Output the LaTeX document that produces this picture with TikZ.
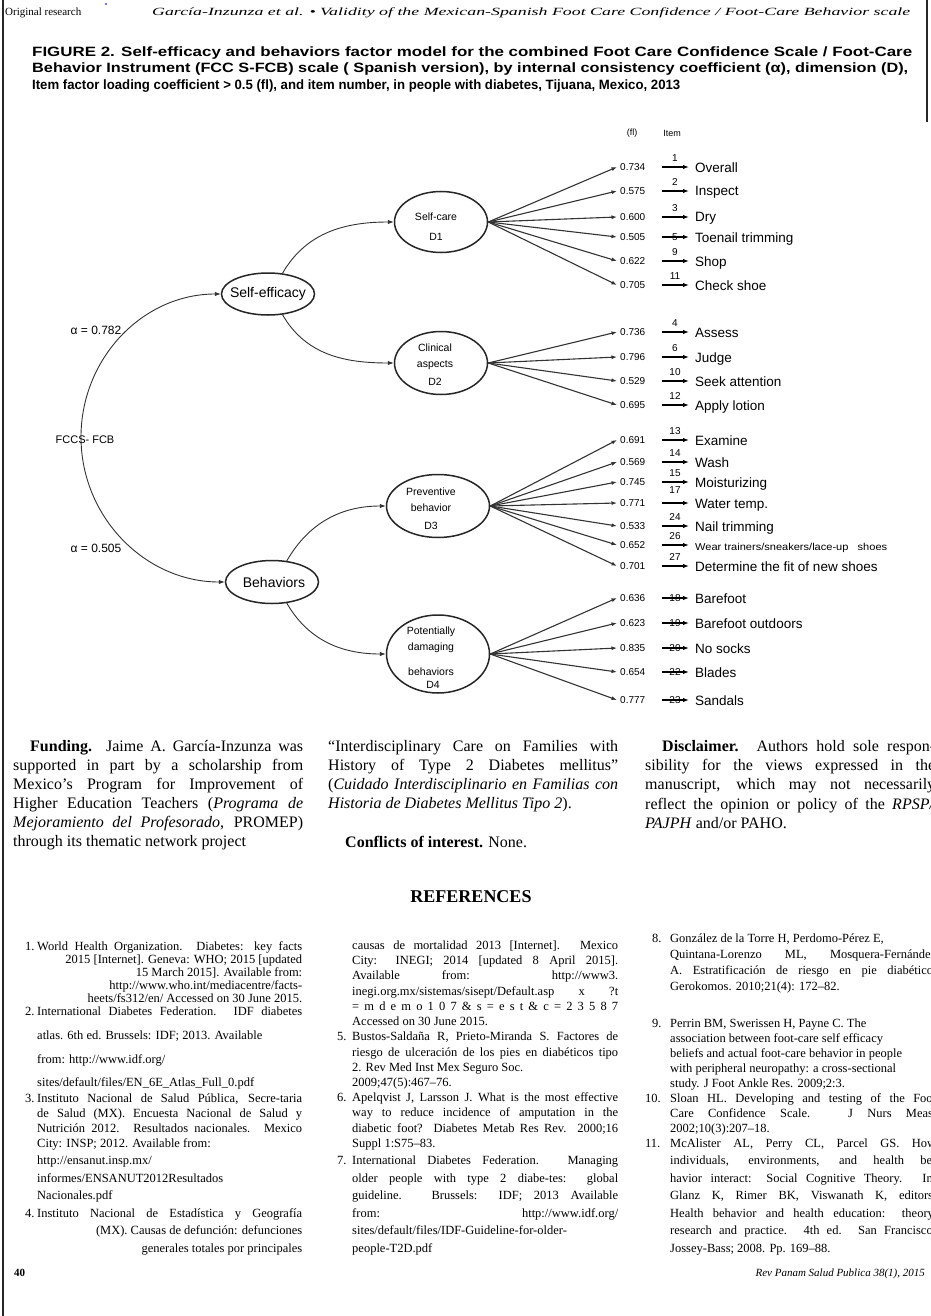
\documentclass[tikz,border=0pt]{standalone}
\usepackage{fontspec}
\usepackage{graphicx}
\setmainfont{Liberation Serif}
\newfontfamily\arial{Liberation Sans}
\usetikzlibrary{shapes.geometric,arrows.meta}

\newcounter{ln}
\newsavebox\lnbox
% stretch a box horizontally to a given width, keeping its height
\newcommand\fitw[2]{\resizebox{#1pt}{\height}{#2}}
% justified line: x, baseline y, width, text
\newcommand\jline[4]{\stepcounter{ln}%
  \node[tl] (ln\arabic{ln}) at (#1,#2) {\sbox\lnbox{#4}\ifdim\wd\lnbox>#3pt\resizebox{#3pt}{\height}{\usebox\lnbox}\else\makebox[#3pt][s]{#4}\fi};}
% left aligned line: x, baseline y, text
\newcommand\lline[3]{\stepcounter{ln}%
  \node[tl] (ln\arabic{ln}) at (#1,#2) {#3};}
% right aligned line: x, baseline y, width, text
\newcommand\rline[4]{\stepcounter{ln}%
  \node[tl] (ln\arabic{ln}) at (#1,#2) {\makebox[#3pt][r]{#4}};}
% one item row of the factor model: source, name, y, loading, item number, number lift, label
\newcommand\itemrow[7]{%
  \coordinate (f#2) at (617,#3);
  \draw[fan] (#1.east) -- (f#2);
  \node[val] (v#2) at (620,#3+3.5) {#4};
  \coordinate (s#2) at (662,#3);
  \coordinate (e#2) at (689,#3);
  \draw[iarr] (s#2) -- (e#2);
  \node[num] (n#2) at (675,#3-#6) {#5};
  \node[itm] (i#2) at (695,#3+5) {#7};
}

\begin{document}
\begin{tikzpicture}[x=1pt,y=-1pt,
  tl/.style={anchor=base west, inner sep=0},
  ell/.style={ellipse, draw=black!85, line width=1.5pt, inner sep=0},
  conn/.style={draw=black!80, line width=0.9pt, -{Latex[length=6pt,width=4.5pt]}},
  fan/.style={draw=black!80, line width=1.1pt, -{Latex[length=5.5pt,width=4pt]}},
  iarr/.style={draw=black, line width=1.2pt, -{Latex[length=6pt,width=4.5pt]}},
  val/.style={anchor=base west, inner sep=0, font=\arial\fontsize{10pt}{12pt}\selectfont},
  num/.style={inner sep=0, font=\arial\fontsize{10pt}{12pt}\selectfont},
  itm/.style={anchor=base west, inner sep=0, font=\arial\fontsize{13.5pt}{16pt}\selectfont},
  dlab/.style={inner sep=0, font=\arial\fontsize{10.5pt}{12pt}\selectfont},
  blab/.style={inner sep=0, font=\arial\fontsize{14pt}{16pt}\selectfont},
  atxt/.style={inner sep=0, font=\arial\fontsize{12pt}{14pt}\selectfont}]

\fill[white] (0,0) rectangle (930,1316);
\useasboundingbox (0,0) rectangle (930,1316);

% page frame
\draw[line width=1.8pt, black!85] (3,0) -- (3,1316);
\draw[line width=1.8pt, black!85] (927,0) -- (927,122);

% running head
\node[tl, font=\fontsize{11pt}{13pt}\selectfont] (hdl) at (5,16) {Original research};
\fill[blue!70] (106,4) circle (1.2);
\node[tl, font=\fontsize{11pt}{13pt}\selectfont\itshape] (hdr) at (152,16)
  {\fitw{758}{García-Inzunza et al. • Validity of the Mexican-Spanish Foot Care Confidence / Foot-Care Behavior scale}};

% figure title
\begin{scope}[every node/.style={tl, font=\arial\bfseries\fontsize{13.5pt}{16pt}\selectfont}]
\node (ti1) at (32,57) {\fitw{880}{FIGURE 2. Self-efficacy and behaviors factor model for the combined Foot Care Confidence Scale / Foot-Care}};
\node (ti2) at (32,73) {\fitw{876}{Behavior Instrument (FCC S-FCB) scale ( Spanish version), by internal consistency coefficient (α), dimension (D),}};
\node (ti3) at (32,90) {\fitw{648}{Item factor loading coefficient > 0.5 (fl), and item number, in people with diabetes, Tijuana, Mexico, 2013}};
\end{scope}

% column heads
\node[num, font=\arial\fontsize{9pt}{11pt}\selectfont] (hfl) at (632,133) {(fl)};
\node[num, font=\arial\fontsize{9pt}{11pt}\selectfont] (hit) at (672,133) {Item};

% latent factors
\node[ell, minimum width=93pt, minimum height=42pt] (se) at (268,294) {};
\node[blab] (set) at (268,294) {Self-efficacy};
\node[ell, minimum width=93pt, minimum height=43pt] (be) at (272,582) {};
\node[blab] (bet) at (274,582) {Behaviors};

\node[ell, minimum width=93pt, minimum height=61pt] (d1) at (441,222) {};
\node[dlab] (d1a) at (436,217) {Self-care};
\node[dlab] (d1b) at (436,237) {D1};
\node[ell, minimum width=93pt, minimum height=63pt] (d2) at (441,363) {};
\node[dlab] (d2a) at (435,348) {Clinical};
\node[dlab] (d2b) at (435,365) {aspects};
\node[dlab] (d2c) at (435,382) {D2};
\node[ell, minimum width=103pt, minimum height=63pt] (d3) at (438,506) {};
\node[dlab] (d3a) at (431,492) {Preventive};
\node[dlab] (d3b) at (431,508) {behavior};
\node[dlab] (d3c) at (431,526) {D3};
\node[ell, minimum width=103pt, minimum height=78pt] (d4) at (438,654) {};
\node[dlab] (d4a) at (431,632) {Potentially};
\node[dlab] (d4b) at (431,648) {damaging};
\node[dlab] (d4c) at (431,672) {behaviors};
\node[dlab] (d4d) at (433,685) {D4};

% higher order structure
\coordinate (root) at (81,437);
\draw[conn] (root) to[out=90,in=180] (se.west);
\draw[conn] (root) to[out=-90,in=180] (be.west);
\node[atxt] (a1) at (96,330) {α = 0.782};
\node[atxt] (a2) at (96,548) {α = 0.505};
\node[atxt, font=\arial\fontsize{11pt}{13pt}\selectfont] (rt) at (85,440) {FCCS- FCB};

\draw[conn] (se.55) to[out=60,in=180] (d1.west);
\draw[conn] (se.-55) to[out=-60,in=180] (d2.west);
\draw[conn] (be.55) to[out=60,in=180] (d3.west);
\draw[conn] (be.-55) to[out=-60,in=180] (d4.west);

% items with loadings
\itemrow{d1}{r1}{167}{0.734}{1}{9}{Overall}
\itemrow{d1}{r2}{191}{0.575}{2}{9}{Inspect}
\itemrow{d1}{r3}{217}{0.600}{3}{9}{Dry}
\itemrow{d1}{r4}{237}{0.505}{5}{0}{Toenail trimming}
\itemrow{d1}{r5}{261}{0.622}{9}{9}{Shop}
\itemrow{d1}{r6}{285}{0.705}{11}{9}{Check shoe}

\itemrow{d2}{r7}{332}{0.736}{4}{9}{Assess}
\itemrow{d2}{r8}{357}{0.796}{6}{9}{Judge}
\itemrow{d2}{r9}{381}{0.529}{10}{9}{Seek attention}
\itemrow{d2}{r10}{405}{0.695}{12}{9}{Apply lotion}

\itemrow{d3}{r11}{440}{0.691}{13}{9}{Examine}
\itemrow{d3}{r12}{462}{0.569}{14}{9}{Wash}
\itemrow{d3}{r13}{482}{0.745}{15}{9}{Moisturizing}
\itemrow{d3}{r14}{503}{0.771}{17}{13}{Water temp.}
\itemrow{d3}{r15}{526}{0.533}{24}{9}{Nail trimming}
\itemrow{d3}{r16}{545}{0.652}{26}{9}{\fitw{192}{\fontsize{10pt}{12pt}\selectfont Wear trainers/sneakers/lace-up\ \ \ shoes}}
\itemrow{d3}{r17}{566}{0.701}{27}{9}{Determine the fit of new shoes}

\itemrow{d4}{r18}{598}{0.636}{18}{0}{Barefoot}
\itemrow{d4}{r19}{623}{0.623}{19}{0}{Barefoot outdoors}
\itemrow{d4}{r20}{648}{0.835}{20}{0}{No socks}
\itemrow{d4}{r21}{672}{0.654}{22}{0}{Blades}
\itemrow{d4}{r22}{700}{0.777}{23}{0}{Sandals}

% closing notes, three columns
\begin{scope}[every node/.append style={font=\fontsize{16pt}{19pt}\selectfont}]
\jline{30}{751}{273}{\textbf{Funding.} Jaime A. García-Inzunza was}
\jline{13}{770}{290}{supported in part by a scholarship from}
\jline{13}{789}{290}{Mexico’s Program for Improvement of}
\jline{13}{808}{290}{Higher Education Teachers (\textit{Programa de}}
\jline{13}{827}{290}{\textit{Mejoramiento del Profesorado}, PROMEP)}
\lline{13}{846}{through its thematic network project}

\jline{328}{751}{290}{“Interdisciplinary Care on Families with}
\jline{328}{770}{290}{History of Type 2 Diabetes mellitus”}
\jline{328}{789}{290}{(\textit{Cuidado Interdisciplinario en Familias con}}
\lline{328}{808}{\textit{Historia de Diabetes Mellitus Tipo 2}).}
\lline{345}{847}{\textbf{Conflicts of interest.} None.}

\jline{662}{751}{273}{\textbf{Disclaimer.} Authors hold sole respon-}
\jline{645}{770}{290}{sibility for the views expressed in the}
\jline{645}{789}{290}{manuscript, which may not necessarily}
\jline{645}{809}{290}{reflect the opinion or policy of the \textit{RPSP/}}
\lline{645}{828}{\textit{PAJPH} and/or PAHO.}
\end{scope}

\node[inner sep=0, font=\bfseries\fontsize{18pt}{20pt}\selectfont] (refh) at (471,897) {REFERENCES};

% reference list
\begin{scope}[every node/.append style={font=\fontsize{12.5pt}{15pt}\selectfont}]
\lline{25}{950}{1.}
\jline{37}{950}{265}{World Health Organization. Diabetes: key facts}
\rline{37}{963}{265}{2015 [Internet]. Geneva: WHO; 2015 [updated}
\rline{37}{976}{265}{15 March 2015]. Available from:}
\rline{37}{989}{265}{http://www.who.int/mediacentre/facts-}
\rline{37}{1002}{265}{heets/fs312/en/ Accessed on 30 June 2015.}
\lline{25}{1015}{2.}
\jline{37}{1015}{265}{International Diabetes Federation. IDF diabetes}
\lline{37}{1039}{atlas. 6th ed. Brussels: IDF; 2013. Available}
\lline{37}{1063}{from: http://www.idf.org/}
\lline{37}{1086}{sites/default/files/EN\_6E\_Atlas\_Full\_0.pdf}
\lline{25}{1102}{3.}
\jline{37}{1102}{265}{Instituto Nacional de Salud Pública, Secre-taria}
\jline{37}{1117}{265}{de Salud (MX). Encuesta Nacional de Salud y}
\jline{37}{1132}{265}{Nutrición 2012. Resultados nacionales. Mexico}
\lline{37}{1147}{City: INSP; 2012. Available from:}
\lline{37}{1164}{http://ensanut.insp.mx/}
\lline{37}{1182}{informes/ENSANUT2012Resultados}
\lline{37}{1199}{Nacionales.pdf}
\lline{25}{1217}{4.}
\jline{37}{1217}{265}{Instituto Nacional de Estadística y Geografía}
\rline{37}{1234}{265}{(MX). Causas de defunción: defunciones}
\rline{37}{1252}{265}{generales totales por principales}

\jline{352}{949}{266}{causas de mortalidad 2013 [Internet]. Mexico}
\jline{352}{964}{266}{City: INEGI; 2014 [updated 8 April 2015].}
\jline{352}{979}{266}{Available from: http://www3.}
\jline{352}{995}{266}{inegi.org.mx/sistemas/sisept/Default.asp x ?t}
\jline{352}{1010}{266}{= m d e m o 1 0 7 \& s = e s t \& c = 2 3 5 8 7}
\lline{352}{1025}{Accessed on 30 June 2015.}
\lline{337}{1040}{5.}
\jline{352}{1040}{266}{Bustos-Saldaña R, Prieto-Miranda S. Factores de}
\jline{352}{1056}{266}{riesgo de ulceración de los pies en diabéticos tipo}
\lline{352}{1071}{2. Rev Med Inst Mex Seguro Soc.}
\lline{352}{1086}{2009;47(5):467–76.}
\lline{337}{1101}{6.}
\jline{352}{1101}{266}{Apelqvist J, Larsson J. What is the most effective}
\jline{352}{1116}{266}{way to reduce incidence of amputation in the}
\jline{352}{1132}{266}{diabetic foot? Diabetes Metab Res Rev. 2000;16}
\lline{352}{1147}{Suppl 1:S75–83.}
\lline{337}{1164}{7.}
\jline{352}{1164}{266}{International Diabetes Federation. Managing}
\jline{352}{1182}{266}{older people with type 2 diabe-tes: global}
\jline{352}{1199}{266}{guideline. Brussels: IDF; 2013 Available}
\jline{352}{1217}{266}{from: http://www.idf.org/}
\lline{352}{1234}{sites/default/files/IDF-Guideline-for-older-}
\lline{352}{1252}{people-T2D.pdf}

\lline{652}{942}{8.}
\lline{670}{942}{González de la Torre H, Perdomo-Pérez E,}
\jline{670}{958}{266}{Quintana-Lorenzo ML, Mosquera-Fernández}
\jline{670}{974}{266}{A. Estratificación de riesgo en pie diabético.}
\lline{670}{990}{Gerokomos. 2010;21(4): 172–82.}
\lline{652}{1027}{9.}
\lline{670}{1027}{Perrin BM, Swerissen H, Payne C. The}
\lline{670}{1042}{association between foot-care self efficacy}
\lline{670}{1057}{beliefs and actual foot-care behavior in people}
\lline{670}{1072}{with peripheral neuropathy: a cross-sectional}
\lline{670}{1087}{study. J Foot Ankle Res. 2009;2:3.}
\lline{645}{1102}{10.}
\jline{670}{1102}{266}{Sloan HL. Developing and testing of the Foot}
\jline{670}{1117}{266}{Care Confidence Scale. J Nurs Meas.}
\lline{670}{1132}{2002;10(3):207–18.}
\lline{645}{1147}{11.}
\jline{670}{1147}{266}{McAlister AL, Perry CL, Parcel GS. How}
\jline{670}{1164}{266}{individuals, environments, and health be-}
\jline{670}{1182}{266}{havior interact: Social Cognitive Theory. In:}
\jline{670}{1199}{266}{Glanz K, Rimer BK, Viswanath K, editors.}
\jline{670}{1217}{266}{Health behavior and health education: theory,}
\jline{670}{1234}{266}{research and practice. 4th ed. San Francisco:}
\lline{670}{1252}{Jossey-Bass; 2008. Pp. 169–88.}
\end{scope}

% page foot
\node[tl, font=\bfseries\fontsize{11pt}{13pt}\selectfont] (pg) at (14,1276) {40};
\node[anchor=base east, inner sep=0, font=\itshape\fontsize{11pt}{13pt}\selectfont] (jn) at (925,1276) {Rev Panam Salud Publica 38(1), 2015};
\end{tikzpicture}
\end{document}
